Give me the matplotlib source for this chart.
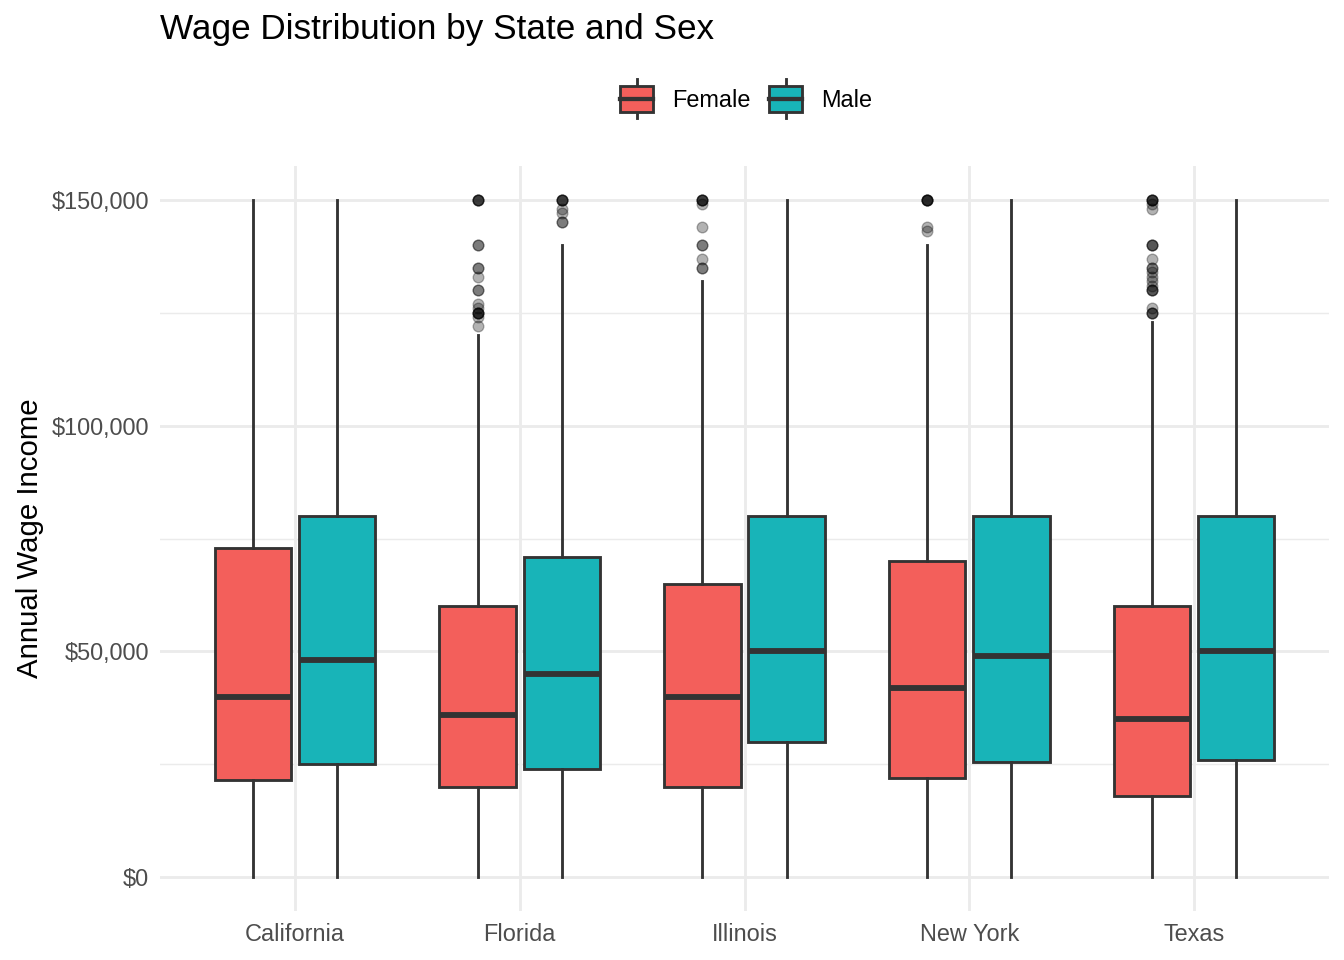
import matplotlib
matplotlib.use("Agg")
import matplotlib.pyplot as plt
from matplotlib.legend_handler import HandlerBase
from matplotlib.patches import Rectangle
from matplotlib.lines import Line2D
from matplotlib.ticker import FuncFormatter, MultipleLocator

plt.rcParams['font.family'] = ['Liberation Sans', 'DejaVu Sans']

states = ["California", "Florida", "Illinois", "New York", "Texas"]
sexes = ["Female", "Male"]
colors = {"Female": "#F35F5B", "Male": "#18B4B8"}

# stats per state: (whislo, q1, med, q3, whishi)
female_stats = [
    (0, 21500, 40000, 73000, 150000),
    (0, 20000, 36000, 60000, 120000),
    (0, 20000, 40000, 65000, 132000),
    (0, 22000, 42000, 70000, 140000),
    (0, 18000, 35000, 60000, 123000),
]
male_stats = [
    (0, 25000, 48000, 80000, 150000),
    (0, 24000, 45000, 71000, 140000),
    (0, 30000, 50000, 80000, 150000),
    (0, 25500, 49000, 80000, 150000),
    (0, 26000, 50000, 80000, 150000),
]
female_outliers = [
    [],
    [150000, 150000, 150000, 150000, 140000, 140000, 135000, 135000, 133000, 130000, 130000,
     127000, 126000, 125000, 125000, 125000, 125000, 124000, 122000],
    [150000, 150000, 150000, 150000, 149000, 144000, 140000, 140000, 137000, 135000, 135000],
    [150000, 150000, 150000, 150000, 150000, 144000, 143000],
    [150000, 150000, 150000, 150000, 149000, 148000, 140000, 140000, 140000, 137000, 135000,
     135000, 134000, 133000, 132000, 131000, 130000, 130000, 130000, 126000, 125000, 125000, 125000],
]
male_outliers = [
    [],
    [150000, 150000, 150000, 150000, 148000, 147000, 145000, 145000],
    [],
    [],
    [],
]

fig = plt.figure(figsize=(7, 5), dpi=192)
ax = fig.add_axes([160/1344, 1 - 911/960, (1329-160)/1344, (911-166)/960])

offset = 0.1875
bw = 0.34
edge = "#333333"
for sex, stats, outs, sgn in [("Female", female_stats, female_outliers, -1),
                               ("Male", male_stats, male_outliers, 1)]:
    bxp_stats = []
    pos = []
    for i, s in enumerate(stats):
        bxp_stats.append(dict(whislo=s[0], q1=s[1], med=s[2], q3=s[3], whishi=s[4], fliers=[]))
        pos.append(i + sgn * offset)
    ax.bxp(bxp_stats, positions=pos, widths=bw, patch_artist=True, showcaps=False,
           showfliers=False,
           boxprops=dict(facecolor=colors[sex], edgecolor=edge, linewidth=1.07),
           whiskerprops=dict(color=edge, linewidth=1.07),
           medianprops=dict(color=edge, linewidth=2.2, solid_capstyle='butt'),
           zorder=3)
    for i, o in enumerate(outs):
        if o:
            ax.scatter([i + sgn * offset] * len(o), o, s=16, color="#000000", alpha=0.3,
                       edgecolors="#000000", linewidths=0.5, zorder=4)

ax.set_xlim(-0.6, 4.6)
ax.set_ylim(-7500, 157500)
ax.set_xticks(range(len(states)))
ax.set_xticklabels(states)
ax.yaxis.set_major_locator(MultipleLocator(50000))
ax.yaxis.set_minor_locator(MultipleLocator(25000))
ax.yaxis.set_major_formatter(FuncFormatter(lambda v, p: f"${int(v):,}"))
ax.grid(True, which='major', color="#EBEBEB", linewidth=1.07, zorder=0)
ax.grid(True, which='minor', axis='y', color="#EBEBEB", linewidth=0.53, zorder=0)
ax.set_axisbelow(True)
for sp in ax.spines.values():
    sp.set_visible(False)
ax.tick_params(axis='both', which='both', length=0, labelsize=8.8, labelcolor="#4D4D4D")
ax.tick_params(axis='x', pad=4.5)
ax.tick_params(axis='y', pad=4)
ax.set_ylabel("Annual Wage Income", fontsize=11, color="black", labelpad=3)

fig.text(160/1344, 1 - 29/960, "Wage Distribution by State and Sex", fontsize=13.2,
         ha='left', va='center', color='black')


class BoxHandler(HandlerBase):
    def create_artists(self, legend, orig_handle, xdescent, ydescent, width, height, fontsize, trans):
        fc = orig_handle.get_facecolor()
        h = height * 1.25
        y0 = -ydescent + (height - h) / 2
        rect = Rectangle((xdescent, y0), width, h, facecolor=fc, edgecolor=edge,
                         linewidth=1.07, transform=trans)
        cx = xdescent + width / 2
        ym = y0 + h / 2
        med = Line2D([xdescent, xdescent + width], [ym, ym], color=edge, linewidth=1.6, transform=trans)
        w1 = Line2D([cx, cx], [y0 + h, y0 + h + h * 0.25], color=edge, linewidth=1.07, transform=trans)
        w2 = Line2D([cx, cx], [y0, y0 - h * 0.25], color=edge, linewidth=1.07, transform=trans)
        return [w1, w2, rect, med]


handles = [Rectangle((0, 0), 1, 1, facecolor=colors[s]) for s in sexes]
leg = fig.legend(handles, sexes, loc='center', bbox_to_anchor=(746/1344, 1 - 100/960),
                 ncol=2, frameon=False, fontsize=8.8, handler_map={Rectangle: BoxHandler()},
                 handlelength=1.4, handleheight=1.0, handletextpad=0.8, columnspacing=0.8)

fig.savefig("out.png", dpi=192)
